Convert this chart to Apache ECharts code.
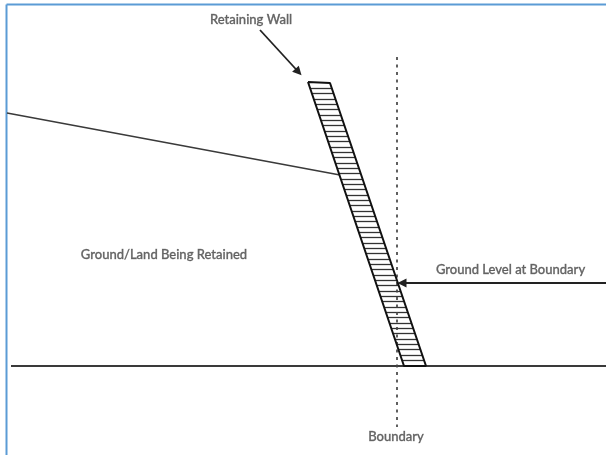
<!DOCTYPE html>
<html>
<head>
<meta charset="utf-8">
<style>
html,body{margin:0;padding:0;background:#fff;}
#c{width:606px;height:455px;filter:blur(0.6px);}
</style>
<script src="https://cdn.jsdelivr.net/npm/echarts@6/dist/echarts.min.js"></script>
</head>
<body>
<div id="c"></div>
<script>
var frameLines = [[[6.5,455],[6.5,4.5]],[[6.5,4.5],[606,4.5]]];
var wallOutline = [[308,82],[330,83],[426,366],[404,366],[308,82]];
var rungY = [88,93,99,104,109,115,120,125,131,136,141,147,152,157,163,168,173,179,184,189,195,200,205,211,216,221,227,232,237,243,248,253,259,264,269,275,280,285,291,296,301,307,312,317,323,328,333,339,344,349,355,360];
var rungLeft = [310,311.7,313.7,315.4,317.1,319.2,320.8,322.5,324.6,326.3,327.9,330,331.7,333.4,335.4,337.1,338.8,340.8,342.5,344.2,346.2,347.9,349.6,351.6,353.3,355,357,358.7,360.4,362.4,364.1,365.8,367.8,369.5,371.2,373.2,374.9,376.6,378.6,380.3,382,384.1,385.7,387.4,389.5,391.1,392.8,394.9,396.6,398.2,400.3,402];
var rungRight = [332,333.7,335.7,337.4,339.1,341.2,342.8,344.5,346.6,348.3,349.9,352,353.7,355.4,357.4,359.1,360.8,362.8,364.5,366.2,368.2,369.9,371.6,373.6,375.3,377,379,380.7,382.4,384.4,386.1,387.8,389.8,391.5,393.2,395.2,396.9,398.6,400.6,402.3,404,406.1,407.7,409.4,411.5,413.1,414.8,416.9,418.6,420.2,422.3,424];
var groundLine = [[11,366],[606,366]];
var slopeLine = [[7,113],[340,175]];
var boundaryLine = [[397,57],[397,427]];
var wallArrow = [[260,30],[298.5,72]];
var levelArrow = [[606,283],[402,283]];
var labelTexts = ['Retaining Wall','Ground/Land Being Retained','Ground Level at Boundary','Boundary'];
var labelPoints = [[251,20],[164,255],[510.5,270],[396,437]];

var ink = '#222222';
function plain(name, data, width, color, extra){
  return Object.assign({type:'line',name:name,data:data,showSymbol:false,symbol:'none',silent:true,animation:false,
    lineStyle:{width:width,color:color,cap:'butt'}},extra||{});
}
var rungs = rungY.map(function(y,i){return {coords:[[rungLeft[i],y],[rungRight[i],y]]};});
var chart = echarts.init(document.getElementById('c'),null,{renderer:'canvas'});
chart.setOption({
  animation:false,
  backgroundColor:'#ffffff',
  grid:{left:0,right:0,top:0,bottom:0},
  xAxis:{type:'value',min:0,max:606,show:false},
  yAxis:{type:'value',min:0,max:455,inverse:true,show:false},
  series:[
    plain('frameLeft',frameLines[0],2,'#5b9bd5'),
    plain('frameTop',frameLines[1],2,'#5b9bd5'),
    plain('ground',groundLine,2,'#3a3a3a'),
    plain('slope',slopeLine,1.6,'#3a3a3a'),
    plain('boundary',boundaryLine,1.5,'#444444',{lineStyle:{width:1.7,color:'#444444',type:[3,4.5]}}),
    {type:'lines',name:'rungs',coordinateSystem:'cartesian2d',silent:true,animation:false,
      lineStyle:{width:1.3,color:'#333333',opacity:1},data:rungs},
    plain('wall',wallOutline,2,'#111111'),
    {type:'lines',name:'arrows',coordinateSystem:'cartesian2d',silent:true,animation:false,
      symbol:['none','triangle'],symbolSize:[0,9],
      lineStyle:{width:1.8,color:ink,opacity:1},
      data:[{coords:wallArrow},{coords:levelArrow}]},
    {type:'scatter',name:'labels',symbolSize:0,silent:true,animation:false,
      data:labelPoints.map(function(p,i){return {value:p,name:labelTexts[i]};}),
      label:{show:true,position:'inside',formatter:'{b}',fontFamily:'Lato',fontSize:13,fontWeight:500,color:'#444444',textBorderColor:'#777777',textBorderWidth:0.4}}
  ]
});
</script>
</body>
</html>
